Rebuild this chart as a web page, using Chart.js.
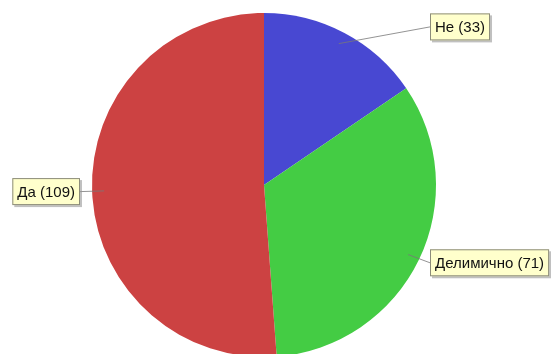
<!DOCTYPE html>
<html>
<head>
<meta charset="utf-8">
<script src="https://cdn.jsdelivr.net/npm/chart.js@4/dist/chart.umd.min.js"></script>
<style>
  html, body { margin: 0; padding: 0; background: #fff; overflow: hidden; }
  #wrap { width: 551px; height: 370px; }
</style>
</head>
<body>
<div id="wrap"><canvas id="pie" width="551" height="370"></canvas></div>
<script>
const labels = ['Не', 'Делимично', 'Да']
const values = [33, 71, 109]
const colors = ['rgb(72, 72, 210)', 'rgb(68, 204, 68)', 'rgb(204, 66, 66)']

// callout boxes with leader lines, placed from each arc's middle angle
const calloutPlugin = {
  id: 'callouts',
  afterDraw(chart) {
    const ctx = chart.ctx
    const arcs = chart.getDatasetMeta(0).data
    ctx.save()
    ctx.font = '15px "Liberation Sans", Arial, sans-serif'
    ctx.textBaseline = 'middle'
    arcs.forEach((arc, i) => {
      const mid = (arc.startAngle + arc.endAngle) / 2
      const cx = arc.x
      const cy = arc.y
      const r = arc.outerRadius
      const dx = Math.cos(mid)
      const dy = Math.sin(mid)
      const text = `${labels[i]} (${values[i]})`
      const w = ctx.measureText(text).width + 10
      const h = 27
      const y = cy + dy * r * 1.04
      const right = dx >= 0
      const boxX = right ? cx + r - 6 : cx - r - 12 - w
      const boxY = y - h / 2

      // leader line
      ctx.strokeStyle = 'rgba(120, 120, 120, 0.8)'
      ctx.lineWidth = 1
      ctx.beginPath()
      ctx.moveTo(cx + dx * r * 0.93, cy + dy * r * 0.93)
      ctx.lineTo(right ? boxX : boxX + w, y)
      ctx.stroke()

      // shadow + box
      ctx.fillStyle = 'rgba(150, 150, 150, 0.6)'
      ctx.fillRect(boxX + 2, boxY + 2, w, h)
      ctx.fillStyle = '#ffffcc'
      ctx.fillRect(boxX, boxY, w, h)
      ctx.strokeStyle = '#8c8c7a'
      ctx.strokeRect(boxX + 0.5, boxY + 0.5, w - 1, h - 1)

      ctx.fillStyle = '#111'
      ctx.fillText(text, boxX + 5, y + 1)
    })
    ctx.restore()
  }
}

new Chart(document.getElementById('pie').getContext('2d'), {
  type: 'pie',
  data: {
    labels: labels,
    datasets: [
      {
        data: values,
        backgroundColor: colors,
        borderWidth: 0
      }
    ]
  },
  options: {
    responsive: false,
    animation: false,
    layout: {
      padding: { top: 13, bottom: 13, left: 0, right: 23 }
    },
    plugins: {
      legend: { display: false },
      tooltip: { enabled: false }
    }
  },
  plugins: [calloutPlugin]
})
</script>
</body>
</html>
